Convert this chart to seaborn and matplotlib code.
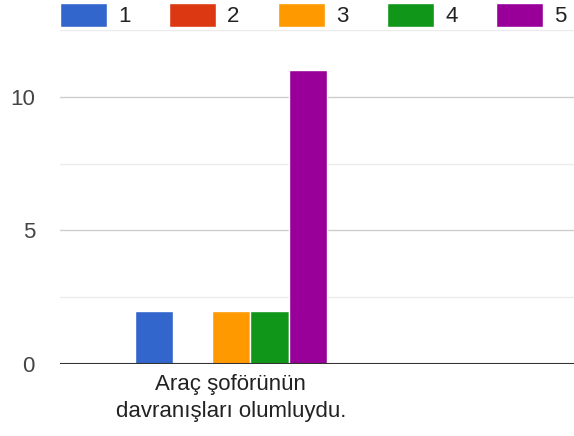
import pandas as pd
import numpy as np
import seaborn as sns
import matplotlib.pyplot as plt

# --- Data ---
categories = ["Araç şoförünün\ndavranışları olumluydu."]
ratings = ["1", "2", "3", "4", "5"]
counts = [2, 0, 2, 2, 11]
colors = ["#3366cc", "#dc3912", "#ff9900", "#109618", "#990099"]

data = pd.DataFrame({
    "question": categories * len(ratings),
    "rating": ratings,
    "count": counts,
})

# --- Style ---
sns.set_style("white")
plt.rcParams["font.family"] = ["Liberation Sans", "DejaVu Sans"]

fig = plt.figure(figsize=(5.74, 4.36), dpi=100)
ax = fig.add_axes([0.1045, 0.165, 0.8955, 0.766])

sns.barplot(
    data=data, x="question", y="count", hue="rating",
    palette=colors, width=0.8, edgecolor="white", linewidth=1,
    saturation=1, ax=ax, legend=True,
)

# grid lines like the google forms chart
ax.set_ylim(0, 12.5)
ax.set_xlim(-0.7125, 1.43)
for y in [2.5, 7.5, 12.5]:
    ax.axhline(y, color="#ebebeb", linewidth=1, zorder=0)
for y in [5, 10]:
    ax.axhline(y, color="#cccccc", linewidth=1, zorder=0)
ax.axhline(0, color="#333333", linewidth=1.5, zorder=3)

ax.set_yticks([0, 5, 10])
ax.tick_params(axis="y", length=0, pad=18, labelsize=16, labelcolor="#444444")
ax.tick_params(axis="x", length=0, pad=7, labelsize=16, labelcolor="#222222")
for t in ax.get_xticklabels():
    t.set_linespacing(1.4)
ax.set_xlabel("")
ax.set_ylabel("")
for s in ax.spines.values():
    s.set_visible(False)

handles, labels = ax.get_legend_handles_labels()
ax.legend(
    handles, labels, ncol=5, frameon=False, fontsize=16,
    loc="lower left", bbox_to_anchor=(0.0, 1.008),
    borderaxespad=0.0, borderpad=0.0,
    handlelength=2.1, handleheight=1.3,
    handletextpad=0.5, columnspacing=1.75,
)
for t in ax.get_legend().get_texts():
    t.set_color("#222222")

plt.savefig("out.png", dpi=100)
